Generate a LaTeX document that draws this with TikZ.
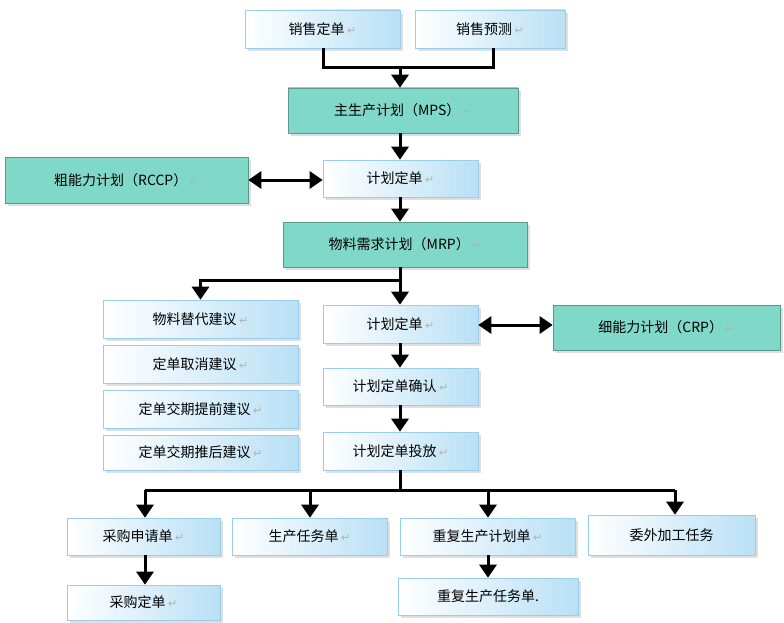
\documentclass[tikz,border=0pt]{standalone}
\usepackage{fontspec}
\setmainfont{Noto Sans CJK SC}
\newfontfamily\djvfont{DejaVu Sans}
\usetikzlibrary{arrows.meta,shadows}
\definecolor{bx}{HTML}{B9E0F5}
\definecolor{bxd}{HTML}{9ACDEB}
\definecolor{tl}{HTML}{80D8C8}
\newcommand{\rt}{\,{\djvfont\color{gray!60}\fontsize{11}{11}\selectfont ↵}}
\begin{document}
\begin{tikzpicture}[x=1pt,y=-1pt,
 box/.style={rectangle,draw=bxd,line width=0.6pt,left color=white,right color=bx,
   drop shadow={shadow xshift=3pt,shadow yshift=-3pt,fill=gray!50},
   font=\fontsize{14}{14}\selectfont,inner sep=2pt},
 tbox/.style={box,left color=tl,right color=tl,draw=tl!70!black},
 ar/.style={line width=3pt,-{Triangle[width=17pt,length=13pt]}},
 dar/.style={line width=3pt,{Triangle[width=17pt,length=13pt]}-{Triangle[width=17pt,length=13pt]}},
 ln/.style={line width=3pt}]
\useasboundingbox (0,0) rectangle (784,623);
\newcommand{\bx}[7][box]{\node[#1,minimum width=#4-#2,minimum height=#5-#3] (#6) at ({(#2+#4)/2},{(#3+#5)/2}) {#7};}
\bx{245}{10}{400}{48}{so}{销售定单\rt}
\bx{415}{10}{565}{48}{sf}{销售预测\rt}
\bx[tbox]{288}{88}{518}{133}{mps}{主生产计划（MPS）\rt}
\bx[tbox]{5}{157}{248}{203}{rccp}{粗能力计划（RCCP）\rt}
\bx{323}{160}{478}{197}{p1}{计划定单\rt}
\bx[tbox]{283}{222}{527}{267}{mrp}{物料需求计划（MRP）\rt}
\bx{103}{300}{298}{338}{s1}{物料替代建议\rt}
\bx{103}{345}{298}{383}{s2}{定单取消建议\rt}
\bx{103}{390}{298}{428}{s3}{定单交期提前建议\rt}
\bx{103}{435}{298}{470}{s4}{定单交期推后建议\rt}
\bx{323}{305}{478}{343}{p2}{计划定单\rt}
\bx[tbox]{553}{305}{780}{350}{crp}{细能力计划（CRP）\rt}
\bx{323}{368}{478}{405}{pc}{计划定单确认\rt}
\bx{323}{432}{478}{470}{pr}{计划定单投放\rt}
\bx{67}{518}{220}{555}{b1}{采购申请单\rt}
\bx{232}{518}{387}{555}{b2}{生产任务单\rt}
\bx{400}{518}{575}{555}{b3}{重复生产计划单\rt}
\bx{588}{515}{755}{555}{b4}{委外加工任务}
\bx{67}{585}{220}{620}{b5}{采购定单\rt}
\bx{398}{578}{578}{615}{b6}{重复生产任务单.}
\coordinate (j1) at (400,68);
\draw[ln] (so.south-|323,0) |- (j1) -| (sf.south-|493,0);
\draw[ar] (j1) -- (j1|-mps.north);
\draw[ar] (mps.south-|400,0) -- (p1.north-|400,0);
\draw[dar] (rccp.east|-0,180) -- (p1.west|-0,180);
\draw[ar] (p1.south-|400,0) -- (mrp.north-|400,0);
\coordinate (j2) at (400,280);
\draw[ln] (mrp.south-|400,0) -- (j2);
\draw[ar] (j2) -| (s1.north);
\draw[ar] (j2) -- (p2.north-|400,0);
\draw[dar] (p2.east|-0,325) -- (crp.west|-0,325);
\draw[ar] (p2.south-|400,0) -- (pc.north-|400,0);
\draw[ar] (pc.south-|400,0) -- (pr.north-|400,0);
\coordinate (j3) at (400,490);
\draw[ln] (pr.south-|400,0) -- (j3);
\draw[ln] (145,490) -- (675,490);
\draw[ar] (145,490) -- (b1.north-|145,0);
\draw[ar] (310,490) -- (b2.north-|310,0);
\draw[ar] (488,490) -- (b3.north-|488,0);
\draw[ar] (675,490) -- (b4.north-|675,0);
\draw[ar] (b1.south-|145,0) -- (b5.north-|145,0);
\draw[ar] (b3.south-|488,0) -- (b6.north-|488,0);
\end{tikzpicture}
\end{document}
